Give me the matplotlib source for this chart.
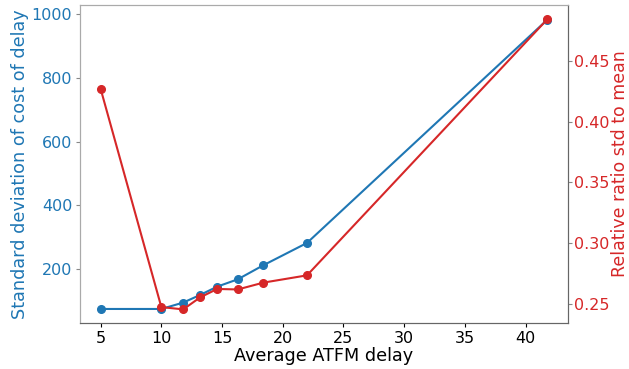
import numpy as np
import matplotlib
matplotlib.use('Agg')
import matplotlib.pyplot as plt

# average ATFM delay (minutes)
avg_delay = [5.0, 10.0, 11.8, 13.2, 14.6, 16.3, 18.4, 22.0, 41.8]
# standard deviation of cost of delay
std_cost = [75, 75, 95, 119, 145, 168, 212, 282, 982]
# relative ratio of std to mean
rel_ratio = [0.427, 0.2475, 0.2456, 0.2555, 0.2624, 0.262, 0.2676, 0.2736, 0.4843]

blue = '#1f77b4'
red = '#d62728'
fs = 11.52
lfs = 12.5

fig = plt.figure(figsize=(6.29, 3.69), dpi=100)
ax = fig.add_axes([80 / 629, 46 / 369, 488 / 629, 318 / 369])
ax2 = ax.twinx()

ax.plot(avg_delay, std_cost, '-o', color=blue, markersize=5.5, linewidth=1.5)
ax2.plot(avg_delay, rel_ratio, '-o', color=red, markersize=5.5, linewidth=1.5)

ax.set_xlim(3.3, 43.5)
ax.set_ylim(31, 1028)
ax2.set_ylim(0.2344, 0.496)

ax.set_xticks([5, 10, 15, 20, 25, 30, 35, 40])
ax.set_yticks([200, 400, 600, 800, 1000])
ax2.set_yticks([0.25, 0.30, 0.35, 0.40, 0.45])
ax2.set_yticklabels(['0.25', '0.30', '0.35', '0.40', '0.45'])

ax.set_xlabel('Average ATFM delay', fontsize=12.7, labelpad=1)
ax.set_ylabel('Standard deviation of cost of delay', fontsize=12.7, color=blue, labelpad=2)
ax2.set_ylabel('Relative ratio std to mean', fontsize=lfs, color=red, labelpad=1.5)

ax.tick_params(axis='x', labelsize=fs, colors='black', length=3, pad=2.5)
ax.tick_params(axis='y', labelsize=fs, labelcolor=blue, color='#888888', length=3, pad=2.5)
ax2.tick_params(axis='y', labelsize=fs, labelcolor=red, color='#888888', length=3, pad=1)

for a in (ax, ax2):
    a.spines['left'].set_color('#aaaaaa')
    a.spines['top'].set_color('#aaaaaa')
    a.spines['bottom'].set_color('#666666')
    a.spines['right'].set_color('#666666')

plt.savefig('out.png', dpi=100)
plt.close()
